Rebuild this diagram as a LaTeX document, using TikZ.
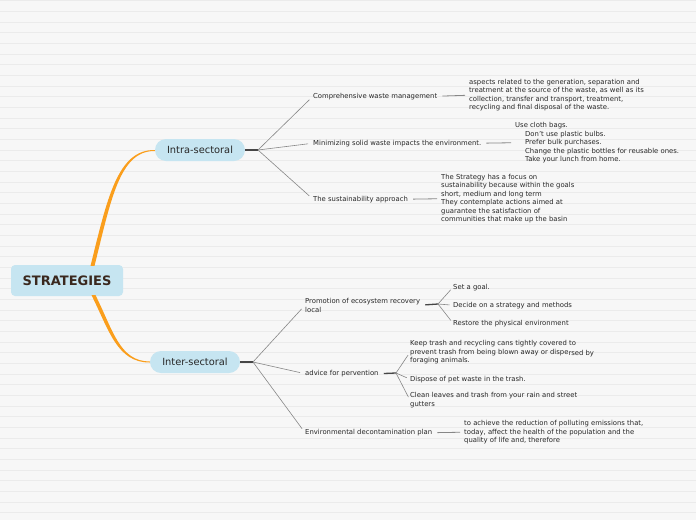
\documentclass[tikz,border=0pt]{standalone}
\usepackage{fontspec}
\setmainfont{DejaVu Sans}
\usetikzlibrary{calc}
\definecolor{bg}{RGB}{247,247,247}
\definecolor{ruleline}{RGB}{235,235,235}
\definecolor{boxblue}{RGB}{198,229,241}
\definecolor{orng}{RGB}{250,158,28}
\definecolor{txt}{RGB}{40,40,40}
\definecolor{roottxt}{RGB}{58,40,30}
\definecolor{fanline}{RGB}{135,135,135}
\definecolor{stemline}{RGB}{70,70,70}
\begin{document}
\begin{tikzpicture}[x=1pt,y=-1pt,
  small/.style={font=\fontsize{6.85}{8.5}\selectfont, text=txt, inner sep=0pt, anchor=west, align=left, yshift=-1.2pt},
  pill/.style={fill=boxblue, rounded corners=11pt, minimum width=90pt, minimum height=22pt, inner sep=0pt, text=txt, font=\fontsize{9.85}{12}\selectfont},
  rootbox/.style={fill=boxblue, rounded corners=4pt, minimum width=112pt, minimum height=31pt, inner sep=0pt, text=roottxt, font=\fontsize{13}{15}\selectfont\bfseries},
  fan/.style={draw=fanline, line width=0.6pt, shorten >=5pt},
  subfan/.style={draw=fanline, line width=0.6pt, shorten >=3.5pt},
  stem/.style={draw=stemline, line width=1.3pt},
  link/.style={draw=fanline, line width=0.8pt, shorten <=5pt, shorten >=4pt}]
\fill[bg] (0,0) rectangle (696,520);
\useasboundingbox (0,0) rectangle (696,520);
\foreach \k in {0,...,48} \draw[ruleline, line width=0.8pt] (0,{0.7+10.667*\k}) -- (696,{0.7+10.667*\k});

% main nodes
\node[rootbox] (root) at (67,280.5) {STRATEGIES};
\node[pill] (intra) at (200,150) {Intra-sectoral};
\node[pill] (inter) at (195,362) {Inter-sectoral};

% orange tapered branches
\fill[orng] ($(root.north)+(23.5,1)$) .. controls (107,200) and (117,149.4) .. (intra.west)
  -- ($(intra.west)+(0,1)$) .. controls (119.5,150.6) and (111,200) .. ($(root.north)+(27.5,1)$) -- cycle;
\fill[orng] ($(root.south)+(24.5,-1)$) .. controls (109,330) and (117,362.6) .. ($(inter.west)+(0,0.5)$)
  -- ($(inter.west)+(0,-0.5)$) .. controls (119.5,361.4) and (113,330) .. ($(root.south)+(28.5,-1)$) -- cycle;

% intra children
\coordinate (fi) at (258,150);
\node[small] (c1) at (313,95) {Comprehensive waste management};
\node[small] (c2) at (313,142) {Minimizing solid waste impacts the environment.};
\node[small] (c3) at (313,198) {The sustainability approach};
\node[small] (d1) at (469,94) {aspects related to the generation, separation and\\treatment at the source of the waste, as well as its\\collection, transfer and transport, treatment,\\recycling and final disposal of the waste.};
\node[small] (d2) at (515,141.5) {Use cloth bags.\\\hspace*{10pt}Don't use plastic bulbs.\\\hspace*{10pt}Prefer bulk purchases.\\\hspace*{10pt}Change the plastic bottles for reusable ones.\\\hspace*{10pt}Take your lunch from home.};
\node[small] (d3) at (441,197.5) {The Strategy has a focus on\\sustainability because within the goals\\short, medium and long term\\They contemplate actions aimed at\\guarantee the satisfaction of\\communities that make up the basin};
\draw[stem] (intra.east) -- (fi);
\draw[fan] (fi) -- (c1.west);
\draw[fan] (fi) -- (c2.west);
\draw[fan] (fi) -- (c3.west);
\draw[link] (c1.east) -- (d1.west);
\draw[link] (c2.east) -- (d2.west);
\draw[link] (c3.east) -- (d3.west);

% inter children
\coordinate (fe) at (253,362);
\node[small] (p) at (305,304) {Promotion of ecosystem recovery\\local};
\node[small] (a) at (305,372.5) {advice for pervention};
\node[small] (e) at (305,431.5) {Environmental decontamination plan};
\draw[stem] (inter.east) -- (fe);
\draw[fan] (fe) -- (p.west);
\draw[fan] (fe) -- (a.west);
\draw[fan] (fe) -- (e.west);

% promotion sub-items
\coordinate (fp) at (438,304);
\node[small] (pa) at (453,286) {Set a goal.};
\node[small] (pb) at (453,304) {Decide on a strategy and methods};
\node[small] (pc) at (453,322) {Restore the physical environment};
\draw[stem, shorten <=5pt] (p.east) -- (fp);
\draw[subfan] (fp) -- (pa.west);
\draw[subfan] (fp) -- (pb.west);
\draw[subfan] (fp) -- (pc.west);

% advice sub-items
\coordinate (fa) at (396,373);
\node[small] (aa) at (410,351) {Keep trash and recycling cans tightly covered to\\prevent trash from being blown away or dispe\raisebox{-1.2pt}{rsed by}\\foraging animals.};
\node[small] (ab) at (410,378) {Dispose of pet waste in the trash.};
\node[small] (ac) at (410,399) {Clean leaves and trash from your rain and street\\gutters};
\draw[stem, shorten <=5pt] (a.east) -- (fa);
\draw[subfan] (fa) -- (aa.west);
\draw[subfan] (fa) -- (ab.west);
\draw[subfan] (fa) -- (ac.west);

% environmental detail
\node[small] (e1) at (464,431) {to achieve the reduction of polluting emissions that,\\today, affect the health of the population and the\\quality of life and, therefore};
\draw[link] (e.east) -- (e1.west);
\end{tikzpicture}
\end{document}
